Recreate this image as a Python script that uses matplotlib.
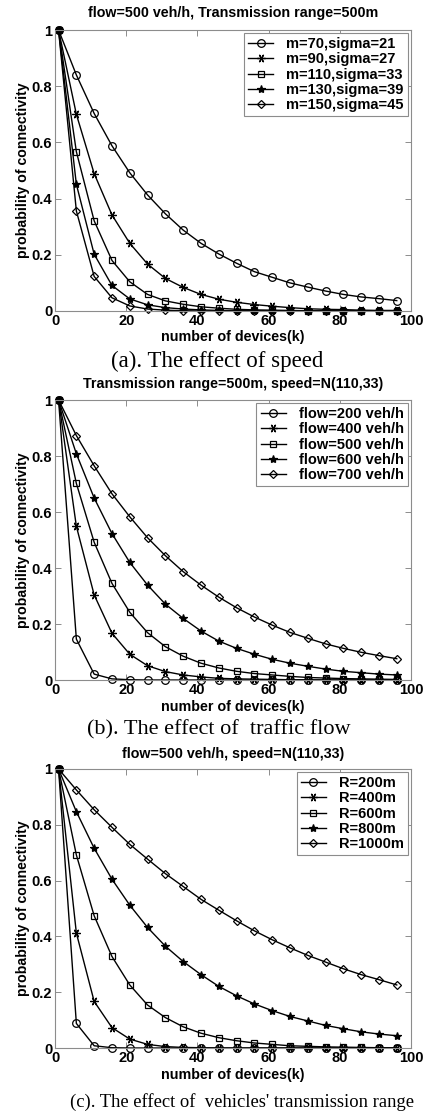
import matplotlib
matplotlib.use("Agg")
import matplotlib.pyplot as plt

plt.rcParams['font.family'] = ['Liberation Sans', 'DejaVu Sans']
plt.rcParams['font.weight'] = 'bold'

# number of devices (x values shared by every curve)
k = [1, 6, 11, 16, 21, 26, 31, 36, 41, 46, 51, 56, 61, 66, 71, 76, 81, 86, 91, 96]

# (a) effect of speed
speed_labels = ["m=70,sigma=21", "m=90,sigma=27", "m=110,sigma=33",
                "m=130,sigma=39", "m=150,sigma=45"]
speed_m70 = [1, 0.84, 0.703, 0.588, 0.492, 0.413, 0.346, 0.288, 0.241, 0.203,
             0.170, 0.140, 0.120, 0.100, 0.085, 0.071, 0.059, 0.050, 0.044, 0.037]
speed_m90 = [1, 0.70, 0.489, 0.342, 0.241, 0.167, 0.116, 0.084, 0.059, 0.042,
             0.031, 0.023, 0.017, 0.012, 0.008, 0.006, 0.005, 0.003, 0.002, 0.002]
speed_m110 = [1, 0.567, 0.321, 0.180, 0.104, 0.059, 0.036, 0.024, 0.015, 0.010,
              0.006, 0.004, 0.003, 0.002, 0.001, 0.001, 0.001, 0.0, 0.0, 0.0]
speed_m130 = [1, 0.451, 0.202, 0.091, 0.043, 0.022, 0.012, 0.007, 0.004, 0.002,
              0.001, 0.001, 0.0, 0.0, 0.0, 0.0, 0.0, 0.0, 0.0, 0.0]
speed_m150 = [1, 0.356, 0.123, 0.047, 0.018, 0.007, 0.003, 0.001, 0.0, 0.0,
              0.0, 0.0, 0.0, 0.0, 0.0, 0.0, 0.0, 0.0, 0.0, 0.0]

# (b) effect of traffic flow
flow_labels = ["flow=200 veh/h", "flow=400 veh/h", "flow=500 veh/h",
               "flow=600 veh/h", "flow=700 veh/h"]
flow_200 = [1, 0.146, 0.021, 0.004, 0.001, 0.0, 0.0, 0.0, 0.0, 0.0,
            0.0, 0.0, 0.0, 0.0, 0.0, 0.0, 0.0, 0.0, 0.0, 0.0]
flow_400 = [1, 0.549, 0.304, 0.167, 0.092, 0.051, 0.030, 0.018, 0.011, 0.006,
            0.004, 0.003, 0.002, 0.001, 0.001, 0.0, 0.0, 0.0, 0.0, 0.0]
flow_500 = [1, 0.702, 0.492, 0.345, 0.242, 0.169, 0.119, 0.085, 0.060, 0.043,
            0.031, 0.023, 0.018, 0.013, 0.009, 0.007, 0.005, 0.004, 0.003, 0.002]
flow_600 = [1, 0.808, 0.650, 0.523, 0.420, 0.339, 0.271, 0.220, 0.175, 0.139,
            0.113, 0.092, 0.074, 0.060, 0.049, 0.039, 0.031, 0.026, 0.021, 0.018]
flow_700 = [1, 0.873, 0.765, 0.665, 0.583, 0.508, 0.444, 0.387, 0.339, 0.296,
            0.258, 0.225, 0.196, 0.170, 0.149, 0.129, 0.113, 0.099, 0.087, 0.076]

# (c) effect of transmission range
range_labels = ["R=200m", "R=400m", "R=600m", "R=800m", "R=1000m"]
range_200 = [1, 0.088, 0.008, 0.001, 0.0, 0.0, 0.0, 0.0, 0.0, 0.0,
             0.0, 0.0, 0.0, 0.0, 0.0, 0.0, 0.0, 0.0, 0.0, 0.0]
range_400 = [1, 0.412, 0.167, 0.073, 0.032, 0.013, 0.005, 0.002, 0.001, 0.0,
             0.0, 0.0, 0.0, 0.0, 0.0, 0.0, 0.0, 0.0, 0.0, 0.0]
range_600 = [1, 0.692, 0.474, 0.328, 0.226, 0.154, 0.109, 0.076, 0.053, 0.037,
             0.026, 0.018, 0.013, 0.008, 0.006, 0.004, 0.003, 0.002, 0.001, 0.001]
range_800 = [1, 0.847, 0.716, 0.605, 0.512, 0.432, 0.365, 0.310, 0.263, 0.221,
             0.187, 0.158, 0.134, 0.113, 0.097, 0.081, 0.069, 0.058, 0.050, 0.044]
range_1000 = [1, 0.925, 0.854, 0.791, 0.730, 0.677, 0.625, 0.579, 0.533, 0.494,
              0.456, 0.420, 0.388, 0.359, 0.332, 0.308, 0.284, 0.263, 0.245, 0.226]

titles = ["flow=500 veh/h, Transmission range=500m",
          "Transmission range=500m, speed=N(110,33)",
          "flow=500 veh/h, speed=N(110,33)"]
captions = ["(a). The effect of speed",
            "(b). The effect of  traffic flow",
            "(c). The effect of  vehicles' transmission range"]

panels = [
    (speed_labels, [speed_m70, speed_m90, speed_m110, speed_m130, speed_m150]),
    (flow_labels, [flow_200, flow_400, flow_500, flow_600, flow_700]),
    (range_labels, [range_200, range_400, range_600, range_800, range_1000]),
]

# marker styles, MATLAB-like: circle, asterisk, square, pentagram, diamond
styles = [
    dict(marker='o', markersize=5.5, markerfacecolor='none'),
    dict(marker=(6, 2, 90), markersize=6),
    dict(marker='s', markersize=5, markerfacecolor='none'),
    dict(marker='*', markersize=6, markerfacecolor='black'),
    dict(marker='D', markersize=4.5, markerfacecolor='none'),
]

W, H = 424, 1111
fig = plt.figure(figsize=(W / 100, H / 100), dpi=100)

# pixel boxes: (left, top, right, bottom)
boxes = [(55, 30, 411, 311), (55, 400, 411, 680), (55, 769, 411, 1048)]
title_y = [13, 384, 754]
xlabel_y = [337, 707, 1075]
# caption x, y, alignment, size
caption_pos = [(217, 361, 'center', 16.5), (219, 730, 'center', 16),
               (70, 1102, 'left', 13.4)]

grey = '#8c8c8c'
for i, (labels, series) in enumerate(panels):
    l, t, r, b = boxes[i]
    ax = fig.add_axes([l / W, 1 - b / H, (r - l) / W, (b - t) / H])
    for lab, y, st in zip(labels, series, styles):
        ax.plot(k, y, color='black', lw=1.0, markeredgecolor='black',
                markeredgewidth=0.9, clip_on=False, label=lab, **st)
    ax.set_xlim(0, 100)
    ax.set_ylim(0, 1)
    ax.set_xticks([0, 20, 40, 60, 80, 100])
    ax.set_yticks([0, 0.2, 0.4, 0.6, 0.8, 1])
    ax.set_yticklabels(['0', '0.2', '0.4', '0.6', '0.8', '1'])
    ax.tick_params(direction='in', top=True, right=True, length=4,
                   width=0.7, color=grey, labelsize=10.5, pad=2)
    for sp in ax.spines.values():
        sp.set_color(grey)
        sp.set_linewidth(0.8)
    ax.set_ylabel("probability of connectivity", fontsize=10.2,
                  fontweight='bold', labelpad=1)
    leg = ax.legend(loc='upper right', fontsize=10.5, frameon=True,
                    fancybox=False, edgecolor=grey, framealpha=1,
                    handlelength=1.7, handletextpad=0.9, labelspacing=0.08,
                    borderpad=0.3, borderaxespad=0.2, numpoints=1)
    leg.get_frame().set_linewidth(0.8)

    fig.text((l + r) / 2 / W, 1 - title_y[i] / H, titles[i], fontsize=10.3,
             fontweight='bold', ha='center', va='center')
    fig.text((l + r) / 2 / W, 1 - xlabel_y[i] / H, "number of devices(k)",
             fontsize=10.3, fontweight='bold', ha='center', va='center')
    cx, cy, ha, fs = caption_pos[i]
    fig.text(cx / W, 1 - cy / H, captions[i], fontsize=fs,
             family='Liberation Serif', fontweight='normal', ha=ha, va='center')

fig.savefig("out.png", dpi=100)
